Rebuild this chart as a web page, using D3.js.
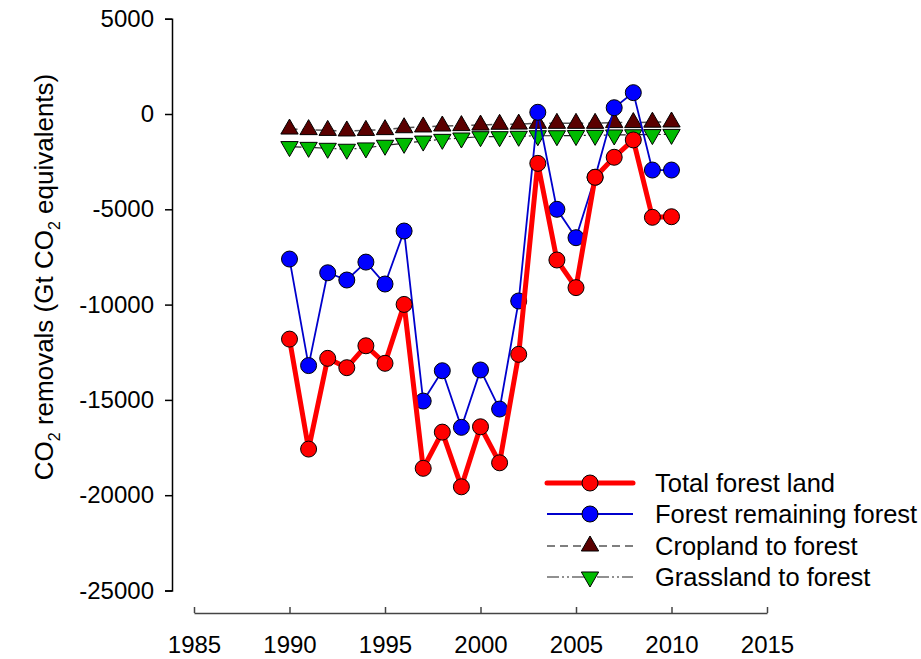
<!DOCTYPE html>
<html><head><meta charset="utf-8">
<script src="https://cdn.jsdelivr.net/npm/d3@7"></script>
<style>body{margin:0;background:#fff}svg{display:block}text{font-family:"Liberation Sans",Arial,sans-serif}</style>
</head><body>
<svg id="c" width="921" height="659"></svg>
<script>
const years = [1990,1991,1992,1993,1994,1995,1996,1997,1998,1999,2000,2001,2002,2003,2004,2005,2006,2007,2008,2009,2010];
const totalForest = [-11810,-17580,-12820,-13310,-12160,-13080,-9990,-18590,-16690,-19560,-16410,-18300,-12610,-2590,-7660,-9110,-3320,-2270,-1360,-5420,-5390];
const forestRemaining = [-7610,-13200,-8330,-8710,-7770,-8920,-6140,-15060,-13470,-16440,-13430,-15480,-9810,90,-5000,-6490,-3320,330,1120,-2940,-2940];
const croplandToForest = [-790,-820,-860,-890,-860,-820,-720,-680,-630,-610,-580,-540,-530,-490,-490,-490,-490,-450,-450,-430,-420];
const grasslandToForest = [-1710,-1750,-1800,-1850,-1780,-1640,-1540,-1420,-1330,-1260,-1190,-1190,-1170,-1140,-1140,-1130,-1120,-1100,-1090,-1080,-1070];
const xTicks = [1985,1990,1995,2000,2005,2010,2015];
const yTicks = [5000,0,-5000,-10000,-15000,-20000,-25000];
const seriesNames = ["Total forest land","Forest remaining forest","Cropland to forest","Grassland to forest"];

const FONT = "Liberation Sans, Arial, sans-serif";
const svg = d3.select("#c");
const x = d3.scaleLinear().domain([1985,2015]).range([194,767]);
const y = d3.scaleLinear().domain([-25000,5000]).range([590.5,18.7]);

// Y axis
const yAx = svg.append("g").attr("transform","translate(172,0)")
  .call(d3.axisLeft(y).tickValues(yTicks).tickSize(7).tickPadding(11).tickFormat(d=>d));
yAx.select(".domain").attr("stroke","#000").attr("stroke-width",1.5);
yAx.selectAll(".tick line").attr("stroke","#000").attr("stroke-width",1.5);
yAx.selectAll("text").style("font-size","24px").style("font-family",FONT).attr("fill","#000");

// X axis (ticks inward)
const xAx = svg.append("g").attr("transform","translate(0,613)")
  .call(d3.axisBottom(x).tickValues(xTicks).tickSizeInner(-6).tickSizeOuter(0).tickFormat(d=>d));
xAx.select(".domain").attr("stroke","#444").attr("stroke-width",1.5);
xAx.selectAll(".tick line").attr("stroke","#444").attr("stroke-width",1.5);
xAx.selectAll("text").style("font-size","24px").style("font-family",FONT).attr("fill","#000").attr("y",40).attr("dy",0);

// Y label
const yl = svg.append("text").attr("transform","translate(53,277) rotate(-90)").attr("text-anchor","middle")
  .style("font-size","26px").style("font-family",FONT).attr("fill","#000");
yl.append("tspan").text("CO");
yl.append("tspan").style("font-size","16px").attr("dy",7).text("2");
yl.append("tspan").attr("dy",-7).text(" removals (Gt CO");
yl.append("tspan").style("font-size","16px").attr("dy",7).text("2");
yl.append("tspan").attr("dy",-7).text(" equivalents)");

const line = d3.line().x((d,i)=>x(years[i])).y(d=>y(d));
const triUp = d3.symbol().type(d3.symbolTriangle).size(130);

// Cropland dashed
svg.append("path").datum(croplandToForest).attr("d",line).attr("fill","none").attr("stroke","#555").attr("stroke-width",1.5).attr("stroke-dasharray","8,5");
// Grassland dash-dot-dot
svg.append("path").datum(grasslandToForest).attr("d",line).attr("fill","none").attr("stroke","#222").attr("stroke-width",1.2).attr("stroke-dasharray","12,3,2,3,2,3");

svg.append("g").selectAll("path").data(croplandToForest).join("path")
  .attr("d",triUp).attr("transform",(d,i)=>`translate(${x(years[i])},${y(d)})`)
  .attr("fill","#5a0000").attr("stroke","#000").attr("stroke-width",1);
svg.append("g").selectAll("path").data(grasslandToForest).join("path")
  .attr("d",triUp).attr("transform",(d,i)=>`translate(${x(years[i])},${y(d)}) rotate(180)`)
  .attr("fill","#00bb00").attr("stroke","#000").attr("stroke-width",1);

// Forest remaining (blue)
svg.append("path").datum(forestRemaining).attr("d",line).attr("fill","none").attr("stroke","#0000cc").attr("stroke-width",1.8);
svg.append("g").selectAll("circle").data(forestRemaining).join("circle")
  .attr("cx",(d,i)=>x(years[i])).attr("cy",d=>y(d)).attr("r",8)
  .attr("fill","#0000ff").attr("stroke","#000").attr("stroke-width",1);

// Total (red)
svg.append("path").datum(totalForest).attr("d",line).attr("fill","none").attr("stroke","#ff0000").attr("stroke-width",5).attr("stroke-linejoin","round");
svg.append("g").selectAll("circle").data(totalForest).join("circle")
  .attr("cx",(d,i)=>x(years[i])).attr("cy",d=>y(d)).attr("r",8)
  .attr("fill","#ff0000").attr("stroke","#000").attr("stroke-width",1);

// Legend
const lg = svg.append("g");
const rows = [483,514,546,577];
const lx0=547, lx1=633, mx=590;
rows.forEach((ry,i)=>{
  const g = lg.append("g");
  if(i===0){
    g.append("line").attr("x1",lx0).attr("x2",lx1).attr("y1",ry).attr("y2",ry).attr("stroke","#ff0000").attr("stroke-width",5).attr("stroke-linecap","round");
    g.append("circle").attr("cx",mx).attr("cy",ry).attr("r",8).attr("fill","#ff0000").attr("stroke","#000");
  } else if(i===1){
    g.append("line").attr("x1",lx0).attr("x2",lx1).attr("y1",ry).attr("y2",ry).attr("stroke","#0000cc").attr("stroke-width",1.8);
    g.append("circle").attr("cx",mx).attr("cy",ry).attr("r",8).attr("fill","#0000ff").attr("stroke","#000");
  } else if(i===2){
    g.append("line").attr("x1",lx0).attr("x2",lx1).attr("y1",ry).attr("y2",ry).attr("stroke","#555").attr("stroke-width",1.5).attr("stroke-dasharray","8,5");
    g.append("path").attr("d",triUp).attr("transform",`translate(${mx},${ry})`).attr("fill","#5a0000").attr("stroke","#000");
  } else {
    g.append("line").attr("x1",lx0).attr("x2",lx1).attr("y1",ry).attr("y2",ry).attr("stroke","#222").attr("stroke-width",1.2).attr("stroke-dasharray","12,3,2,3,2,3");
    g.append("path").attr("d",triUp).attr("transform",`translate(${mx},${ry}) rotate(180)`).attr("fill","#00bb00").attr("stroke","#000");
  }
  g.append("text").attr("x",655).attr("y",ry).attr("dy","0.35em").style("font-size","25.5px").style("font-family",FONT).attr("fill","#000").text(seriesNames[i]);
});
</script>
</body></html>
